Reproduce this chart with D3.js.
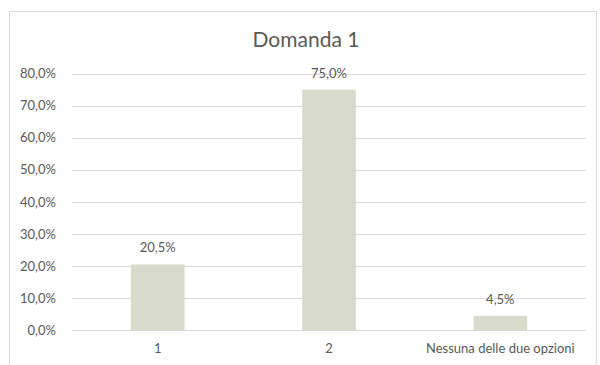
<!DOCTYPE html>
<html>
<head>
<meta charset="utf-8">
<script src="https://cdn.jsdelivr.net/npm/d3@7"></script>
<style>
  html, body { margin: 0; padding: 0; background: #fff; }
  svg { display: block; }
  text { font-family: "Lato", "Open Sans", sans-serif; fill: #595959; }
</style>
</head>
<body>
<svg id="chart" width="600" height="365"></svg>
<script>
// Survey answers for "Domanda 1"
const categories = ["1", "2", "Nessuna delle due opzioni"];
const values = [0.205, 0.75, 0.045];
const yTicks = [0, 0.1, 0.2, 0.3, 0.4, 0.5, 0.6, 0.7, 0.8];
const title = "Domanda 1";

const W = 600, H = 365;
const margin = { top: 73.5, right: 14, bottom: 34.7, left: 72 };
const labelSize = 13;

const svg = d3.select("#chart");

// chart frame
svg.append("rect")
  .attr("x", 9.5).attr("y", 11.5)
  .attr("width", 587).attr("height", 370)
  .attr("fill", "#fff")
  .attr("stroke", "#d9d9d9");

const x = d3.scaleBand()
  .domain(categories)
  .range([margin.left, W - margin.right])
  .paddingInner(0.687)
  .paddingOuter(0.3435);

const y = d3.scaleLinear()
  .domain([0, 0.8])
  .range([H - margin.bottom, margin.top]);

const fmt = v => d3.format(".1f")(v * 100).replace(".", ",") + "%";

// gridlines
svg.append("g")
  .selectAll("line")
  .data(yTicks)
  .join("line")
  .attr("x1", margin.left).attr("x2", W - margin.right)
  .attr("y1", d => Math.round(y(d)) + 0.5)
  .attr("y2", d => Math.round(y(d)) + 0.5)
  .attr("stroke", "#d9d9d9")
  .attr("stroke-width", 1);

// y axis labels
const yAxis = d3.axisLeft(y).tickValues(yTicks).tickFormat(fmt).tickSize(0).tickPadding(16);
const yg = svg.append("g").attr("transform", `translate(${margin.left},0)`).call(yAxis);
yg.select(".domain").remove();
yg.selectAll("text").attr("font-size", labelSize).attr("fill", "#595959")
  .style("font-family", "Lato, 'Open Sans', sans-serif");

// bars
svg.append("g")
  .selectAll("rect")
  .data(values)
  .join("rect")
  .attr("x", (d, i) => x(categories[i]))
  .attr("y", d => y(d))
  .attr("width", x.bandwidth())
  .attr("height", d => y(0) - y(d))
  .attr("fill", "#d8dacb");

// value labels
svg.append("g")
  .selectAll("text")
  .data(values)
  .join("text")
  .attr("x", (d, i) => x(categories[i]) + x.bandwidth() / 2)
  .attr("y", d => y(d) - 12)
  .attr("text-anchor", "middle")
  .attr("font-size", labelSize)
  .text(fmt);

// x axis line and labels
svg.append("line")
  .attr("x1", margin.left).attr("x2", W - margin.right)
  .attr("y1", Math.round(y(0)) + 0.5).attr("y2", Math.round(y(0)) + 0.5)
  .attr("stroke", "#d9d9d9");

const xAxis = d3.axisBottom(x).tickSize(0).tickPadding(13);
const xg = svg.append("g").attr("transform", `translate(0,${y(0)})`).call(xAxis);
xg.select(".domain").remove();
xg.selectAll("text").attr("font-size", labelSize).attr("fill", "#595959")
  .style("font-family", "Lato, 'Open Sans', sans-serif");

// title
svg.append("text")
  .attr("x", 306).attr("y", 47)
  .attr("text-anchor", "middle")
  .attr("font-size", 21)
  .text(title);
</script>
</body>
</html>
